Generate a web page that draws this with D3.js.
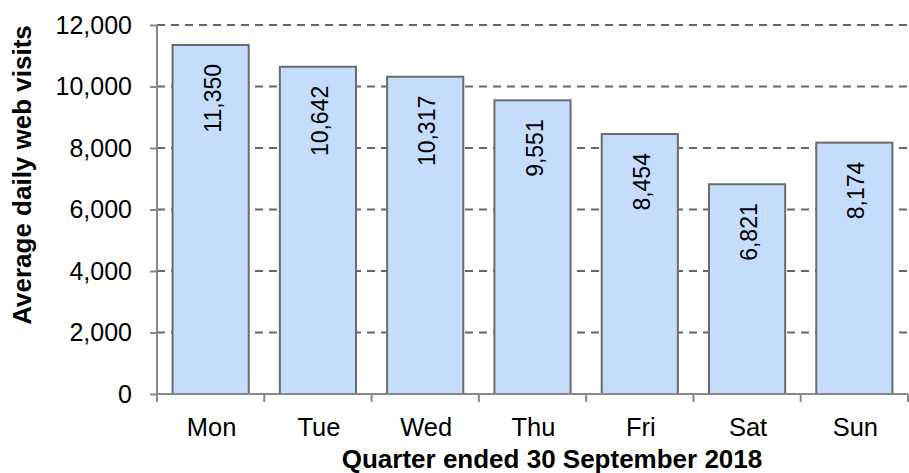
<!DOCTYPE html>
<html>
<head>
<meta charset="utf-8">
<script src="https://cdn.jsdelivr.net/npm/d3@7"></script>
<style>
  body { margin: 0; background: #fff; }
  svg { display: block; font-family: "Liberation Sans", Arial, sans-serif; }
</style>
</head>
<body>
<div id="chart"></div>
<script>
// chart data
const days = ['Mon', 'Tue', 'Wed', 'Thu', 'Fri', 'Sat', 'Sun'];
const visits = [11350, 10642, 10317, 9551, 8454, 6821, 8174];
const yTicks = [0, 2000, 4000, 6000, 8000, 10000, 12000];
const xTitle = 'Quarter ended 30 September 2018';
const yTitle = 'Average daily web visits';

const width = 909;
const height = 473;
const plot = { left: 157, right: 908, top: 25, bottom: 394 };

const svg = d3.select('#chart')
  .append('svg')
  .attr('width', width)
  .attr('height', height);

const xScale = d3.scaleBand()
  .domain(days)
  .range([plot.left, plot.right])
  .paddingInner(0.29)
  .paddingOuter(0.145);

const yScale = d3.scaleLinear()
  .domain([0, 12000])
  .range([plot.bottom, plot.top]);

const fmt = d3.format(',');

// dashed gridlines (not at zero)
svg.append('g')
  .selectAll('line')
  .data(yTicks.filter((d) => d > 0))
  .join('line')
  .attr('x1', plot.left)
  .attr('x2', plot.right)
  .attr('y1', (d) => yScale(d))
  .attr('y2', (d) => yScale(d))
  .attr('stroke', '#666')
  .attr('stroke-width', 2)
  .attr('stroke-dasharray', '8,6');

// y axis
const yAxis = svg.append('g')
  .attr('transform', `translate(${plot.left},0)`)
  .call(d3.axisLeft(yScale).tickValues(yTicks).tickFormat(fmt).tickSize(7).tickPadding(18));
yAxis.select('.domain').remove();
yAxis.selectAll('line').attr('stroke', '#888').attr('stroke-width', 2);
yAxis.selectAll('text')
  .attr('font-size', 25)
  .attr('fill', '#000')
  .attr('font-family', '"Liberation Sans", Arial, sans-serif');

svg.append('line')
  .attr('x1', plot.left).attr('x2', plot.left)
  .attr('y1', plot.top).attr('y2', plot.bottom + 8)
  .attr('stroke', '#888').attr('stroke-width', 2);

// bars
svg.append('g')
  .selectAll('rect')
  .data(days)
  .join('rect')
  .attr('x', (d) => xScale(d))
  .attr('y', (d, i) => yScale(visits[i]))
  .attr('width', xScale.bandwidth())
  .attr('height', (d, i) => yScale(0) - yScale(visits[i]))
  .attr('fill', '#c6dcfd')
  .attr('stroke', '#6b6b6b')
  .attr('stroke-width', 2);

// x axis line and tick marks at category boundaries
svg.append('line')
  .attr('x1', plot.left).attr('x2', plot.right)
  .attr('y1', plot.bottom).attr('y2', plot.bottom)
  .attr('stroke', '#888').attr('stroke-width', 2);

const step = xScale.step();
svg.append('g')
  .selectAll('line')
  .data(d3.range(days.length + 1))
  .join('line')
  .attr('x1', (i) => plot.left + i * step)
  .attr('x2', (i) => plot.left + i * step)
  .attr('y1', plot.bottom)
  .attr('y2', plot.bottom + 8)
  .attr('stroke', '#888').attr('stroke-width', 2);

// category labels
svg.append('g')
  .selectAll('text')
  .data(days)
  .join('text')
  .attr('x', (d) => xScale(d) + xScale.bandwidth() / 2 + 1)
  .attr('y', 436)
  .attr('text-anchor', 'middle')
  .attr('font-size', 25.5)
  .text((d) => d);

// value labels, rotated inside the bars
svg.append('g')
  .selectAll('text')
  .data(days)
  .join('text')
  .attr('transform', (d, i) =>
    `translate(${xScale(d) + xScale.bandwidth() / 2 + 2},${yScale(visits[i]) + 19}) rotate(-90)`)
  .attr('text-anchor', 'end')
  .attr('dy', '0.35em')
  .attr('font-size', 23)
  .text((d, i) => fmt(visits[i]));

// axis titles
svg.append('text')
  .attr('x', 552)
  .attr('y', 468)
  .attr('text-anchor', 'middle')
  .attr('font-size', 26)
  .attr('font-weight', 'bold')
  .text(xTitle);

svg.append('text')
  .attr('transform', 'translate(22,175) rotate(-90)')
  .attr('text-anchor', 'middle')
  .attr('dy', '0.35em')
  .attr('font-size', 26)
  .attr('font-weight', 'bold')
  .text(yTitle);
</script>
</body>
</html>
